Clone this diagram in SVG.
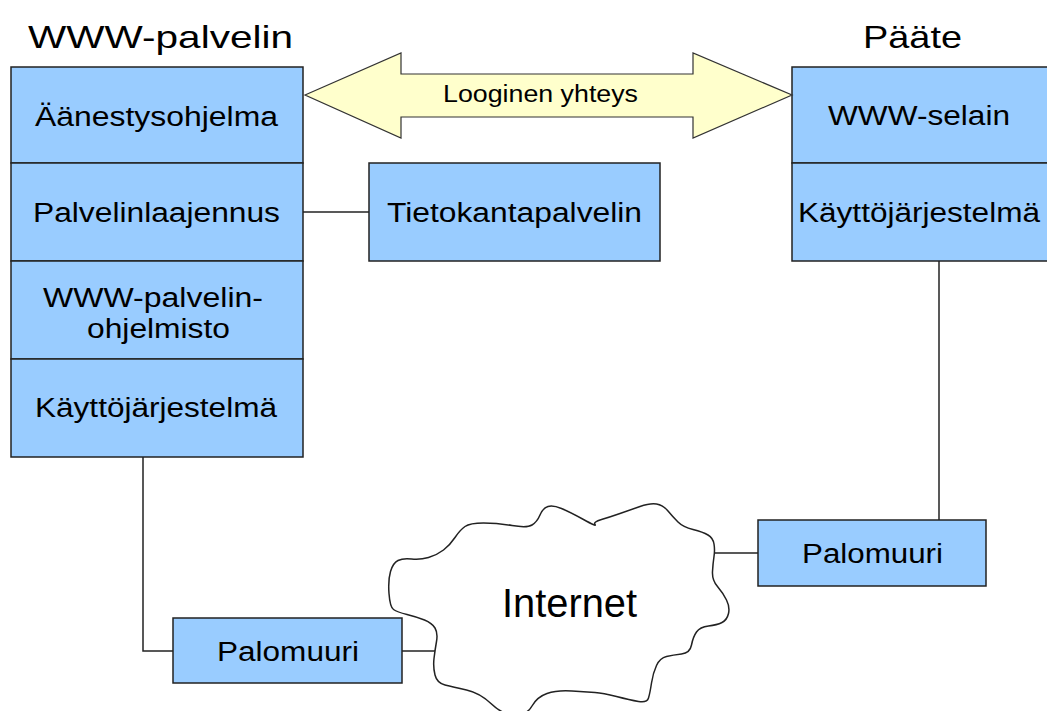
<svg xmlns="http://www.w3.org/2000/svg" width="1047" height="711" viewBox="0 0 1047 711">
  <style>
    .box { fill: #99ccff; stroke: #222; stroke-width: 1.5; }
    .line { fill: none; stroke: #222; stroke-width: 1.5; }
    .lbl { font-family: "Liberation Sans", Arial, sans-serif; font-size: 27px; fill: #000; }
    .title { font-family: "Liberation Sans", Arial, sans-serif; font-size: 32px; fill: #000; }
  </style>
  <rect width="1047" height="711" fill="#fff"/>

  <!-- connectors -->
  <g id="connectors">
    <polyline class="line" points="143,457 143,651 173,651"/>
    <line class="line" x1="402" y1="651" x2="436" y2="651"/>
    <line class="line" x1="303" y1="212" x2="369" y2="212"/>
    <line class="line" x1="939" y1="261" x2="939" y2="520"/>
    <line class="line" x1="714" y1="553" x2="758" y2="553"/>
  </g>

  <!-- titles -->
  <text class="title" x="28" y="48" textLength="265" lengthAdjust="spacingAndGlyphs">WWW-palvelin</text>
  <text class="title" x="863" y="48" textLength="99" lengthAdjust="spacingAndGlyphs">Pääte</text>

  <!-- web server stack -->
  <g id="server">
    <rect class="box" x="11" y="67" width="292" height="96"/>
    <rect class="box" x="11" y="163" width="292" height="98"/>
    <rect class="box" x="11" y="261" width="292" height="98"/>
    <rect class="box" x="11" y="359" width="292" height="98"/>
    <text class="lbl" x="35" y="126" textLength="243" lengthAdjust="spacingAndGlyphs">Äänestysohjelma</text>
    <text class="lbl" x="33" y="222" textLength="247" lengthAdjust="spacingAndGlyphs">Palvelinlaajennus</text>
    <text class="lbl" x="43" y="307" textLength="220" lengthAdjust="spacingAndGlyphs">WWW-palvelin-</text>
    <text class="lbl" x="87" y="338" textLength="143" lengthAdjust="spacingAndGlyphs">ohjelmisto</text>
    <text class="lbl" x="35" y="417" textLength="242" lengthAdjust="spacingAndGlyphs">Käyttöjärjestelmä</text>
  </g>

  <!-- database server -->
  <g id="database">
    <rect class="box" x="369" y="163" width="291" height="98"/>
    <text class="lbl" x="387" y="222" textLength="255" lengthAdjust="spacingAndGlyphs">Tietokantapalvelin</text>
  </g>

  <!-- client stack -->
  <g id="client">
    <rect class="box" x="792" y="67" width="270" height="96"/>
    <rect class="box" x="792" y="163" width="270" height="98"/>
    <text class="lbl" x="828" y="125" textLength="182" lengthAdjust="spacingAndGlyphs">WWW-selain</text>
    <text class="lbl" x="798" y="222" textLength="242" lengthAdjust="spacingAndGlyphs">Käyttöjärjestelmä</text>
  </g>

  <!-- logical connection arrow -->
  <g id="logical-link">
    <polygon points="305,95 401,53 401,74 693,74 693,53 792,95 693,138 693,117 401,117 401,138" fill="#ffffcc" stroke="#333" stroke-width="1.2"/>
    <text x="443" y="102" font-family="Liberation Sans, Arial, sans-serif" font-size="23" textLength="195" lengthAdjust="spacingAndGlyphs">Looginen yhteys</text>
  </g>

  <!-- internet cloud -->
  <g id="internet">
    <path fill="#fff" stroke="#222" stroke-width="1.5" stroke-linejoin="round" d="M393.5,609.5 Q390,607 389,593.5 Q388,580 390.5,571.5 Q393,563 398,560.5 Q403,558 411.5,559 Q420,560 428.5,557.5 Q437,555 443.5,550 Q450,545 455,537.5 Q460,530 465,526.5 Q470,523 483.5,523 Q497,523 512,525.5 Q527,528 532,525 Q537,522 540,515 Q543,508 548,506.5 Q553,505 561.5,508.5 Q570,512 583.5,519.5 Q597,527 595,524.5 Q593,522 601.5,519.5 Q610,517 620,513.5 Q630,510 640,506.5 Q650,503 656.5,504 Q663,505 668,511 Q673,517 678,522 Q683,527 693,529.5 Q703,532 708,535 Q713,538 714,544 Q715,550 714,556.5 Q713,563 712.5,571.5 Q712,580 717.5,586.5 Q723,593 726.5,600 Q730,607 728.5,613.5 Q727,620 722,622.5 Q717,625 708.5,626 Q700,627 696.5,632 Q693,637 691.5,645 Q690,653 681.5,654 Q673,655 666.5,656.5 Q660,658 656.5,665.5 Q653,673 651.5,683 Q650,693 648.5,698 Q647,703 638.5,701.5 Q630,700 616.5,696.5 Q603,693 595,692.5 Q587,692 572,691 Q557,690 547,693.5 Q537,697 532,706 Q527,715 515,715 Q503,715 491.5,704 Q480,693 466.5,690 Q453,687 445,685 Q437,683 435,675 Q433,667 434,658.5 Q435,650 436.5,641.5 Q438,633 435,628 Q432,623 424.5,620 Q417,617 407,614.5 Q397,612 393.5,609.5 Z"/>
    <text x="502" y="617" font-family="Liberation Sans, Arial, sans-serif" font-size="40" textLength="135" lengthAdjust="spacingAndGlyphs">Internet</text>
  </g>

  <!-- firewalls -->
  <g id="firewall-server">
    <rect class="box" x="173" y="618" width="229" height="65"/>
    <text class="lbl" x="217" y="661" textLength="142" lengthAdjust="spacingAndGlyphs">Palomuuri</text>
  </g>
  <g id="firewall-client">
    <rect class="box" x="758" y="520" width="228" height="66"/>
    <text class="lbl" x="802" y="563" textLength="141" lengthAdjust="spacingAndGlyphs">Palomuuri</text>
  </g>
</svg>
